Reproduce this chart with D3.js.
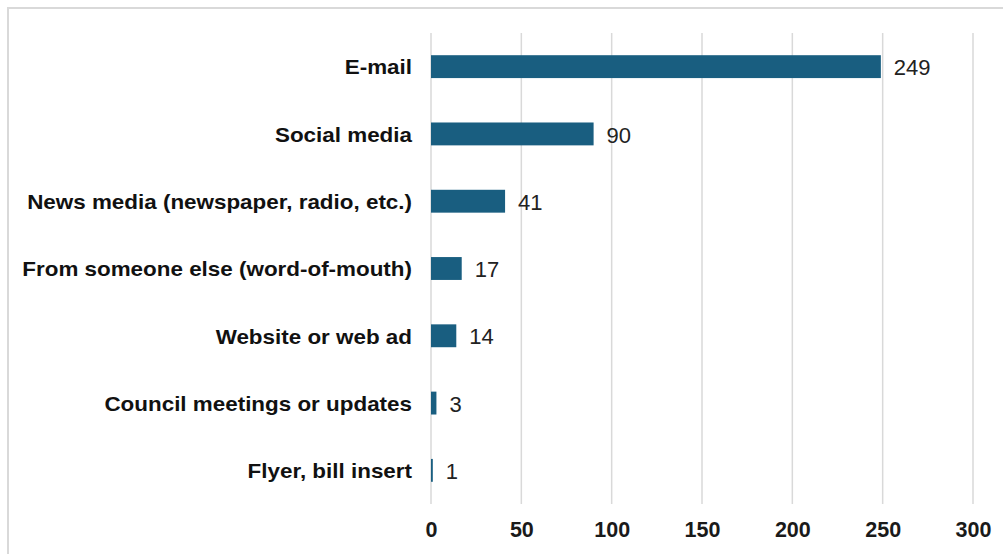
<!DOCTYPE html>
<html>
<head>
<meta charset="utf-8">
<script src="https://cdn.jsdelivr.net/npm/d3@7"></script>
<style>
  html, body { margin: 0; padding: 0; background: #fff; }
  svg { display: block; }
  text { font-family: "Liberation Sans", Arial, sans-serif; }
</style>
</head>
<body>
<svg id="chart" width="1003" height="554"></svg>
<script>
// How people heard about it (responses)
const categories = [
  "E-mail",
  "Social media",
  "News media (newspaper, radio, etc.)",
  "From someone else (word-of-mouth)",
  "Website or web ad",
  "Council meetings or updates",
  "Flyer, bill insert"
];
const counts = [249, 90, 41, 17, 14, 3, 1];
const tickValues = [0, 50, 100, 150, 200, 250, 300];

const svg = d3.select("#chart");
const W = 1003, H = 554;

// outer chart frame
svg.append("rect")
  .attr("x", 8).attr("y", 8)
  .attr("width", W + 20).attr("height", H + 20)
  .attr("fill", "#fff")
  .attr("stroke", "#d9d9d9")
  .attr("stroke-width", 2);

const plot = { left: 431, right: 973, top: 33, bottom: 504 };

const x = d3.scaleLinear().domain([0, 300]).range([plot.left, plot.right]);
const y = d3.scaleBand()
  .domain(categories)
  .range([plot.top, plot.bottom])
  .paddingInner(0.66)
  .paddingOuter(0.33);

// vertical gridlines
svg.append("g")
  .selectAll("line")
  .data(tickValues)
  .join("line")
  .attr("x1", d => x(d)).attr("x2", d => x(d))
  .attr("y1", plot.top).attr("y2", plot.bottom)
  .attr("stroke", "#d9d9d9")
  .attr("stroke-width", 1.5);

// x axis tick labels
const xAxis = d3.axisBottom(x).tickValues(tickValues).tickSize(0).tickPadding(0);
const gx = svg.append("g")
  .attr("transform", `translate(0,${plot.bottom})`)
  .call(xAxis);
gx.select(".domain").remove();
gx.selectAll("text")
  .attr("y", 26)
  .attr("dy", "0.32em")
  .attr("fill", "#1a1a1a")
  .style("font-size", "21.5px")
  .style("font-weight", "bold");

const rows = categories.map((c, i) => ({ cat: c, val: counts[i] }));

// bars
svg.append("g")
  .selectAll("rect")
  .data(rows)
  .join("rect")
  .attr("x", x(0))
  .attr("y", d => y(d.cat))
  .attr("width", d => x(d.val) - x(0))
  .attr("height", y.bandwidth())
  .attr("fill", "#195e80");

// category labels
svg.append("g")
  .selectAll("text")
  .data(rows)
  .join("text")
  .attr("transform", d => `translate(412,${y(d.cat) + y.bandwidth() / 2 + 1}) scale(1.15,1)`)
  .attr("text-anchor", "end")
  .attr("dy", "0.35em")
  .attr("fill", "#111")
  .style("font-size", "19.5px")
  .style("font-weight", "bold")
  .text(d => d.cat);

// value labels
svg.append("g")
  .selectAll("text")
  .data(rows)
  .join("text")
  .attr("x", d => x(d.val) + 13)
  .attr("y", d => y(d.cat) + y.bandwidth() / 2 + 1)
  .attr("dy", "0.35em")
  .attr("fill", "#222")
  .style("font-size", "22px")
  .text(d => d.val);
</script>
</body>
</html>
